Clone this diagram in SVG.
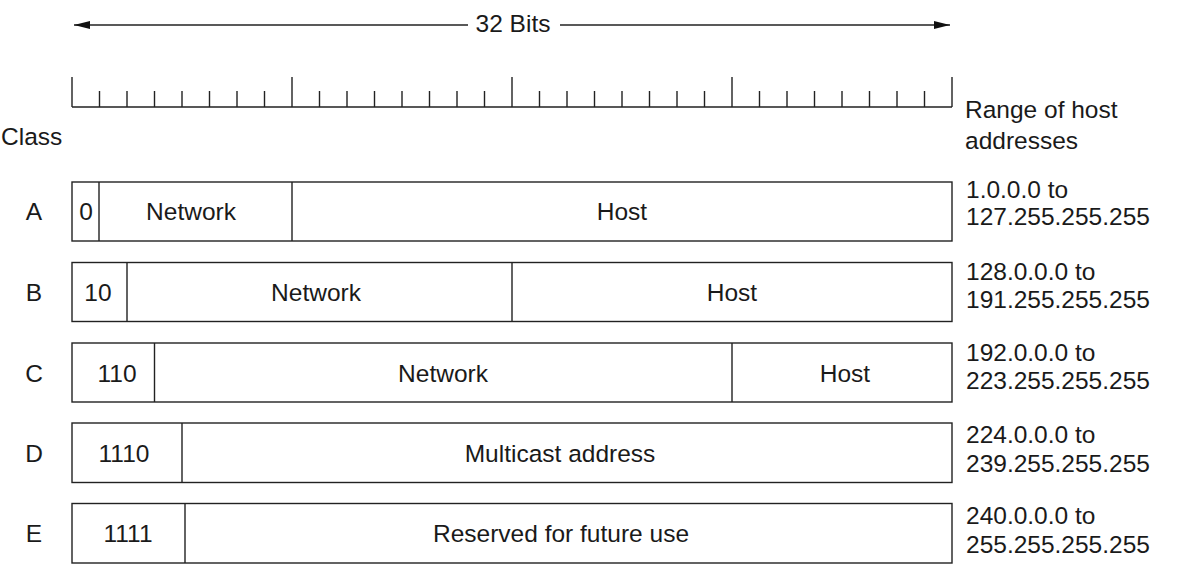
<svg xmlns="http://www.w3.org/2000/svg" width="1183" height="588" viewBox="0 0 1183 588">
<style>
text{font-family:"Liberation Sans",Arial,sans-serif;font-size:24.5px;fill:#1a1a1a}
.m{text-anchor:middle}
.box{fill:#fff;stroke:#222;stroke-width:1.4}
.ln{stroke:#222;stroke-width:1.4;fill:none}
</style>
<defs>
<marker id="ah" viewBox="0 0 16 8" refX="16" refY="4" markerWidth="16" markerHeight="8" markerUnits="userSpaceOnUse" orient="auto-start-reverse">
<path d="M0,0 L16,4 L0,8 Z" fill="#111"/>
</marker>
</defs>
<rect width="1183" height="588" fill="#fff"/>
<g id="connectors">
<line class="ln" x1="74" y1="25" x2="468" y2="25" marker-start="url(#ah)"/>
<line class="ln" x1="560" y1="25" x2="950" y2="25" marker-end="url(#ah)"/>
</g>
<g id="title"><text class="m" x="513" y="32">32 Bits</text></g>
<g id="ruler">
<path class="ln" d="M72,107 H952 M72,77 V107 M99.5,91 V107 M127,91 V107 M154.5,91 V107 M182,91 V107 M209.5,91 V107 M237,91 V107 M264.5,91 V107 M292,77 V107 M319.5,91 V107 M347,91 V107 M374.5,91 V107 M402,91 V107 M429.5,91 V107 M457,91 V107 M484.5,91 V107 M512,77 V107 M539.5,91 V107 M567,91 V107 M594.5,91 V107 M622,91 V107 M649.5,91 V107 M677,91 V107 M704.5,91 V107 M732,77 V107 M759.5,91 V107 M787,91 V107 M814.5,91 V107 M842,91 V107 M869.5,91 V107 M897,91 V107 M924.5,91 V107 M952,77 V107"/>
</g>
<g id="headers">
<text x="1" y="145">Class</text>
<text x="965" y="118">Range of host</text>
<text x="965" y="149">addresses</text>
</g>
<g id="classA">
<rect class="box" x="72" y="182" width="880" height="59"/>
<path class="ln" d="M99,182 V241 M292,182 V241"/>
<text class="m" x="34" y="220">A</text>
<text class="m" x="86" y="220">0</text>
<text class="m" x="191" y="220">Network</text>
<text class="m" x="622" y="220">Host</text>
<text x="966" y="198">1.0.0.0 to</text>
<text x="966" y="225">127.255.255.255</text>
</g>
<g id="classB">
<rect class="box" x="72" y="262.5" width="880" height="59"/>
<path class="ln" d="M127,262.5 V321.5 M512,262.5 V321.5"/>
<text class="m" x="34" y="301">B</text>
<text class="m" x="98" y="301">10</text>
<text class="m" x="316" y="301">Network</text>
<text class="m" x="732" y="301">Host</text>
<text x="966" y="280">128.0.0.0 to</text>
<text x="966" y="308">191.255.255.255</text>
</g>
<g id="classC">
<rect class="box" x="72" y="343" width="880" height="59"/>
<path class="ln" d="M154.5,343 V402 M732,343 V402"/>
<text class="m" x="34" y="382">C</text>
<text class="m" x="117" y="382">110</text>
<text class="m" x="443" y="382">Network</text>
<text class="m" x="845" y="382">Host</text>
<text x="966" y="361">192.0.0.0 to</text>
<text x="966" y="389">223.255.255.255</text>
</g>
<g id="classD">
<rect class="box" x="72" y="423" width="880" height="59.5"/>
<path class="ln" d="M182,423 V482.5"/>
<text class="m" x="34" y="462">D</text>
<text class="m" x="124" y="462">1110</text>
<text class="m" x="560" y="462">Multicast address</text>
<text x="966" y="443">224.0.0.0 to</text>
<text x="966" y="472">239.255.255.255</text>
</g>
<g id="classE">
<rect class="box" x="72" y="503.5" width="880" height="59.5"/>
<path class="ln" d="M185,503.5 V563"/>
<text class="m" x="34" y="542">E</text>
<text class="m" x="128" y="542">1111</text>
<text class="m" x="561" y="542">Reserved for future use</text>
<text x="966" y="524">240.0.0.0 to</text>
<text x="966" y="553">255.255.255.255</text>
</g>
</svg>
